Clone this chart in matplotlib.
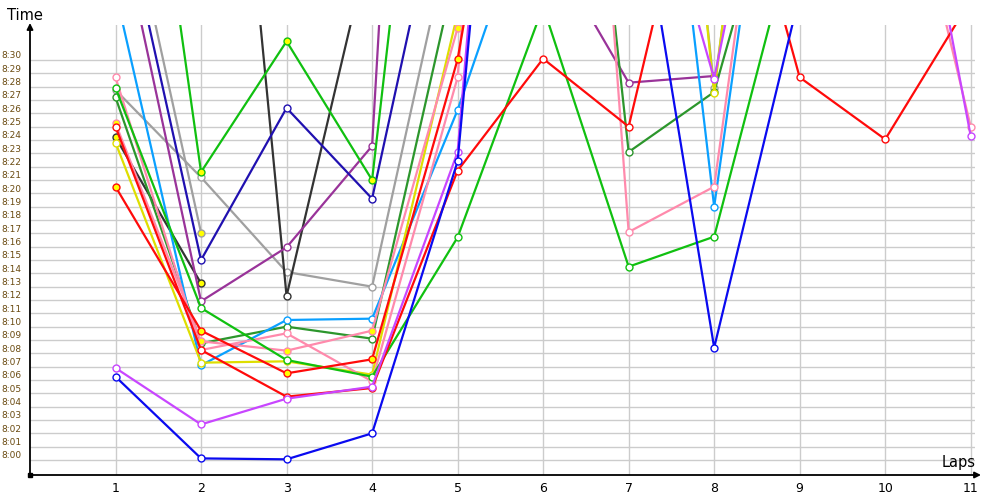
import numpy as np
import matplotlib
matplotlib.use("Agg")
import matplotlib.pyplot as plt
from matplotlib.transforms import ScaledTranslation

# laps on x, time in minutes after 8:00 on y (None = no value)
laps = list(range(1, 12))
minutes = list(range(0, 31))
minute_labels = [f"8:{m:02d}" for m in minutes]

blue = [6.25, 0.12, 0.05, 2.0, 22.4, 92, 47.6, 8.43, 34.9, None, None]
magenta = [6.9, 2.67, 4.6, 5.5, 23.1, 99, 51, 28.6, 60, 58, 24.3]
red_a = [20.5, 9.7, 6.5, 7.55, 30.05, 66.8, None, None, None, None, None]
red_b = [25.0, 8.25, 4.75, 5.4, 21.7, 30.1, 25.0, 52, 28.7, 24.05, 34.5]
pink_a = [28.7, 8.25, 9.5, 5.9, 28.7, 105, 17.1, 20.5, 67, 51.8, 25.0]
pink_b = [25.25, 8.9, 8.2, 9.7, 32.4, 80, None, None, None, None, None]
light_blue = [35.1, 7.1, 10.5, 10.6, 26.25, 44.9, 73.6, 19.0, 64.5, None, None]
green_a = [67, 21.6, 31.4, 21.0, 76.9, None, None, None, None, None, None]
green_b = [27.9, 11.4, 7.5, 6.25, 16.7, 34.0, 14.5, 16.75, 41.3, None, None]
dark_green = [27.2, 8.75, 10.0, 9.1, 37.4, 82.6, 23.1, 27.6, 50.3, None, None]
gray_a = [27.75, 21.2, 14.1, 13.0, 42, 70, 88, 27.9, 75.8, None, None]
gray_b = [46.3, 17.05, None, None, None, None, None, None, None, None, None]
black_a = [24.2, 13.25, None, None, None, None, None, None, None, None, None]
black_b = [None, 79, 12.3, 39.5, None, None, None, None, None, None, None]
yellow = [23.8, 7.3, 7.4, 6.4, 33.5, 60, 90, 27.5, 80, None, None]
purple = [41.7, 11.9, 15.95, 23.55, 134, 39.3, 28.3, 28.8, None, None, None]
navy = [43.9, 15.0, 26.4, 19.6, 49, None, None, None, None, None, None]

YEL = "#ffff00"
series = [
    (gray_a, "#a0a0a0", "white"),
    (gray_b, "#a0a0a0", YEL),
    (black_b, "#333333", "white"),
    (black_a, "#333333", YEL),
    (purple, "#993399", "white"),
    (navy, "#2010b0", "white"),
    (green_a, "#10c010", YEL),
    (dark_green, "#2c962c", "white"),
    (light_blue, "#0aa0ff", "white"),
    (yellow, "#dede00", "white"),
    (pink_a, "#ff8aac", "white"),
    (pink_b, "#ff8aac", YEL),
    (green_b, "#10c010", "white"),
    (red_a, "#ff0a0a", YEL),
    (red_b, "#ff0a0a", "white"),
    (magenta, "#c846ff", "white"),
    (blue, "#0a0af0", "white"),
]

fig = plt.figure(figsize=(10, 5), dpi=100)
ax = fig.add_axes([0.03, 0.05, 0.945, 0.9])

for vals, col, face in series:
    y = np.array([np.nan if v is None else v for v in vals], dtype=float)
    ax.plot(laps, y, color=col, lw=1.6, marker="o", ms=5, mfc=face,
            mec=col, mew=1, zorder=3)

ax.set_xlim(0, 11.05)
ax.set_ylim(-1.125, 32.625)
ax.set_xticks(laps)
ax.set_yticks(minutes, minute_labels)
ax.tick_params(length=0)
ax.tick_params(axis="x", labelsize=9, pad=5)
ax.tick_params(axis="y", labelsize=6.5, labelcolor="#6a4a10", pad=6)
for lab in ax.get_yticklabels():
    lab.set_transform(lab.get_transform() + ScaledTranslation(0, 0.05, fig.dpi_scale_trans))

ax.grid(True, color="#cccccc", lw=1)
ax.set_axisbelow(True)
for s in ax.spines.values():
    s.set_visible(False)

# axis arrows
arrow = dict(arrowstyle="-|>", color="black", lw=1.3, mutation_scale=9, shrinkA=0, shrinkB=0)
ax.annotate("", xy=(0, 1 + 2 / 450), xytext=(0, 0), xycoords="axes fraction",
            arrowprops=arrow, annotation_clip=False)
ax.annotate("", xy=(1 + 6 / 945, 0), xytext=(0, 0), xycoords="axes fraction",
            arrowprops=arrow, annotation_clip=False)
ax.plot([0], [-1.125], marker="s", ms=3, color="black", clip_on=False, zorder=5)

fig.text(24.5 / 1000, 1 - 16 / 500, "Time", ha="center", va="center", fontsize=10.5)
fig.text(959 / 1000, 1 - 463 / 500, "Laps", ha="center", va="center", fontsize=10.5)

fig.savefig("out.png", dpi=100)
